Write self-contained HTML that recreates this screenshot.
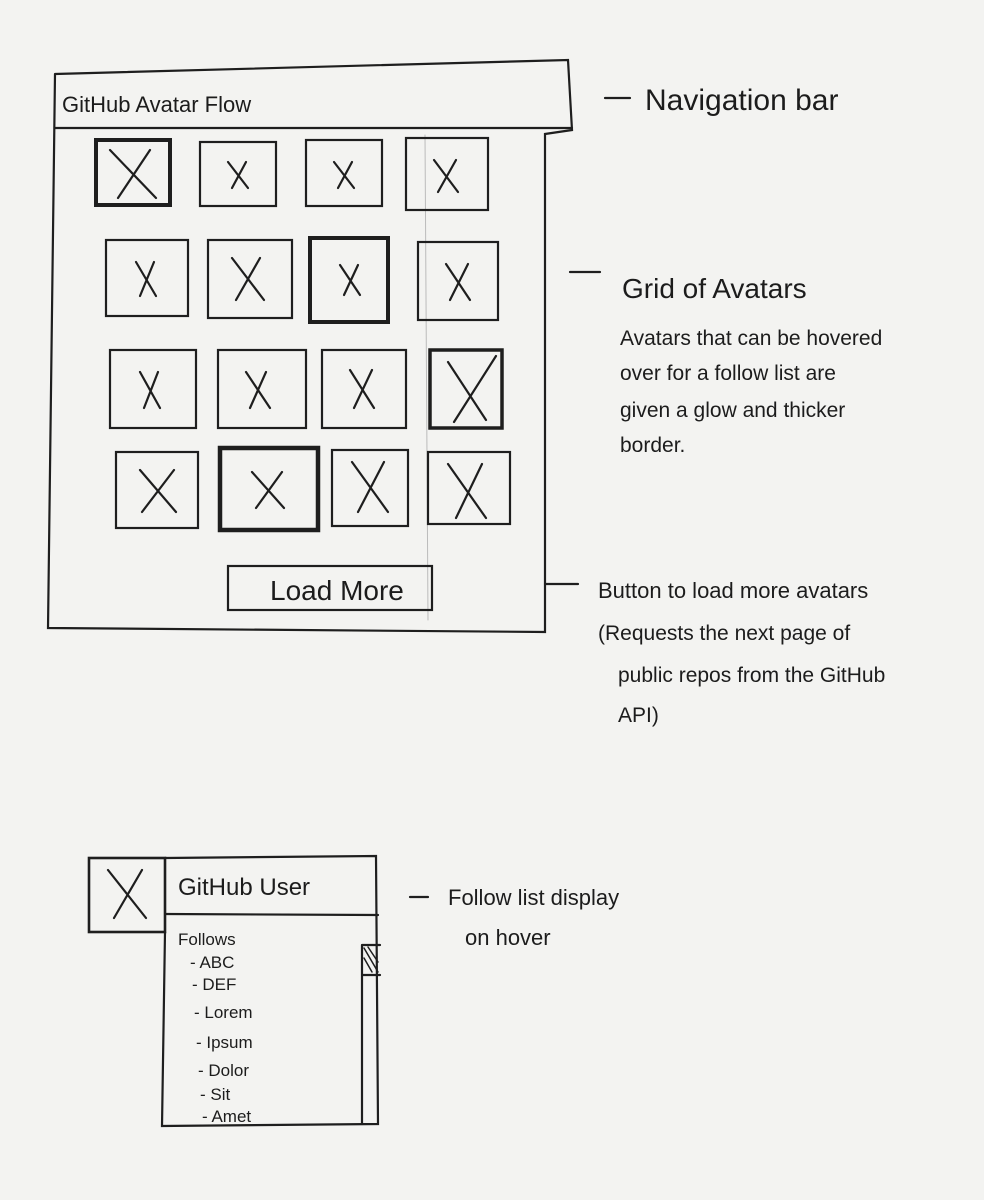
<!DOCTYPE html>
<html><head><meta charset="utf-8"><style>
html,body{margin:0;padding:0;background:#f3f3f1;}
svg{display:block}
text{font-family:"Liberation Sans",sans-serif;fill:#1c1c1c;}
</style></head><body>
<svg width="984" height="1200" viewBox="0 0 984 1200" xmlns="http://www.w3.org/2000/svg">
<rect width="984" height="1200" fill="#f3f3f1"/>
<g stroke="#1e1e1e" fill="none" stroke-width="2.2" stroke-linecap="round">
<!-- main frame -->
<path d="M55 74 L568 60 L572 130 L545 134 L545 632 L48 628 L55 74"/>
<path d="M55 128 L572 128"/>
<path d="M425 135 L428 620" stroke="#bbb" stroke-width="1"/>
<!-- row1 -->
<rect x="96" y="140" width="74" height="65" stroke-width="4"/><path d="M110 150 L156 198 M150 150 L118 198"/>
<rect x="200" y="142" width="76" height="64"/><path d="M228 162 L248 188 M246 162 L232 188"/>
<rect x="306" y="140" width="76" height="66"/><path d="M334 162 L354 188 M352 162 L338 188"/>
<rect x="406" y="138" width="82" height="72"/><path d="M434 160 L458 192 M456 160 L438 192"/>
<!-- row2 -->
<rect x="106" y="240" width="82" height="76"/><path d="M136 262 L156 296 M154 262 L140 296"/>
<rect x="208" y="240" width="84" height="78"/><path d="M232 258 L264 300 M260 258 L236 300"/>
<rect x="310" y="238" width="78" height="84" stroke-width="4"/><path d="M340 265 L360 295 M358 265 L344 295"/>
<rect x="418" y="242" width="80" height="78"/><path d="M446 264 L470 300 M468 264 L450 300"/>
<!-- row3 -->
<rect x="110" y="350" width="86" height="78"/><path d="M140 372 L160 408 M158 372 L144 408"/>
<rect x="218" y="350" width="88" height="78"/><path d="M246 372 L270 408 M266 372 L250 408"/>
<rect x="322" y="350" width="84" height="78"/><path d="M350 370 L374 408 M372 370 L354 408"/>
<rect x="430" y="350" width="72" height="78" stroke-width="3.5"/><path d="M448 362 L486 420 M496 356 L454 422"/>
<!-- row4 -->
<rect x="116" y="452" width="82" height="76"/><path d="M140 470 L176 512 M174 470 L142 512"/>
<rect x="220" y="448" width="98" height="82" stroke-width="4.5"/><path d="M252 472 L284 508 M282 472 L256 508"/>
<rect x="332" y="450" width="76" height="76"/><path d="M352 462 L388 512 M384 462 L358 512"/>
<rect x="428" y="452" width="82" height="72"/><path d="M448 464 L486 518 M482 464 L456 518"/>
<!-- button -->
<rect x="228" y="566" width="204" height="44"/>
<!-- dashes -->
<path d="M605 98 L630 98 M570 272 L600 272 M545 584 L578 584 M410 897 L428 897"/>
<!-- bottom -->
<rect x="89" y="858" width="76" height="74" stroke-width="2.6"/><path d="M108 870 L146 918 M142 870 L114 918"/>
<path d="M165 858 L376 856 L378 1124 L162 1126 L165 932"/>
<path d="M165 914 L378 915"/>
<path d="M362 945 L362 1124 M362 945 L380 945 M362 975 L380 975"/>
<path d="M364 948 L378 972 M368 947 L378 962 M364 958 L372 972" stroke-width="1.5"/>
</g>
<text x="62" y="112" font-size="22">GitHub Avatar Flow</text>
<text x="270" y="600" font-size="28">Load More</text>
<text x="645" y="110" font-size="30">Navigation bar</text>
<text x="622" y="298" font-size="28">Grid of Avatars</text>
<text x="620" y="345" font-size="21">Avatars that can be hovered</text>
<text x="620" y="380" font-size="21">over for a follow list are</text>
<text x="620" y="417" font-size="21">given a glow and thicker</text>
<text x="620" y="452" font-size="21">border.</text>
<text x="598" y="598" font-size="22">Button to load more avatars</text>
<text x="598" y="640" font-size="21">(Requests the next page of</text>
<text x="618" y="682" font-size="21">public repos from the GitHub</text>
<text x="618" y="722" font-size="21">API)</text>
<text x="178" y="895" font-size="24">GitHub User</text>
<text x="448" y="905" font-size="22">Follow list display</text>
<text x="465" y="945" font-size="22">on hover</text>
<text x="178" y="945" font-size="17">Follows</text>
<text x="190" y="968" font-size="17">- ABC</text>
<text x="192" y="990" font-size="17">- DEF</text>
<text x="194" y="1018" font-size="17">- Lorem</text>
<text x="196" y="1048" font-size="17">- Ipsum</text>
<text x="198" y="1076" font-size="17">- Dolor</text>
<text x="200" y="1100" font-size="17">- Sit</text>
<text x="202" y="1122" font-size="17">- Amet</text>
</svg>
</body></html>
